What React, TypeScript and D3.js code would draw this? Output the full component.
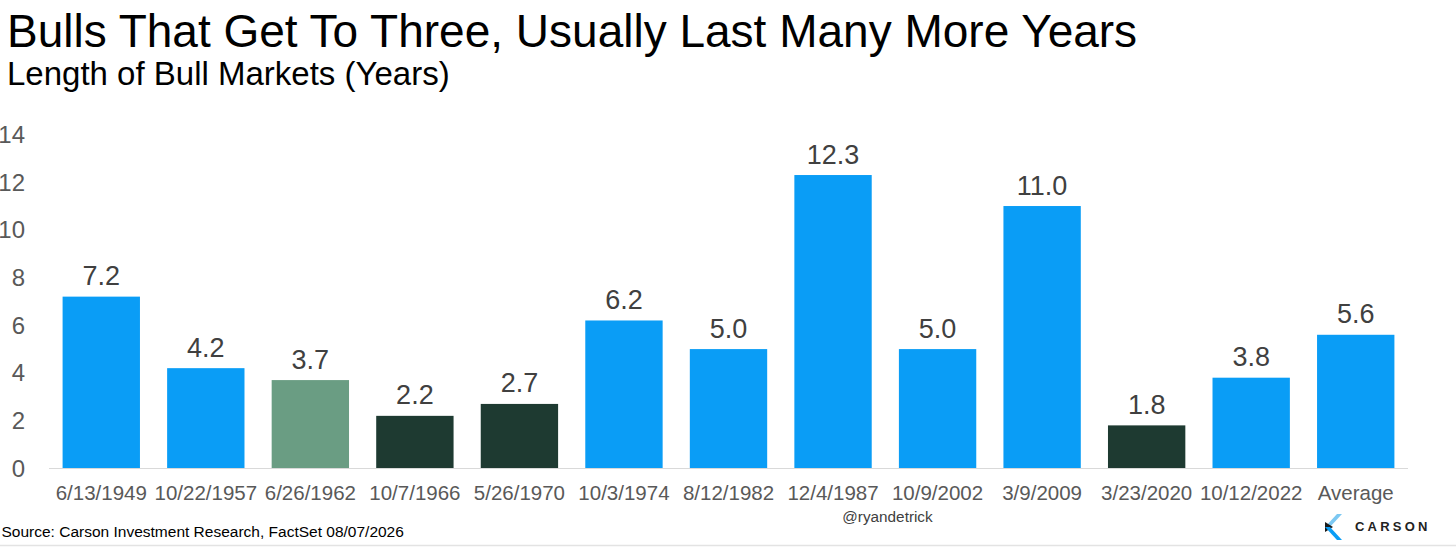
import React from "react";
import * as d3 from "d3";

const categories = ["6/13/1949", "10/22/1957", "6/26/1962", "10/7/1966", "5/26/1970", "10/3/1974", "8/12/1982", "12/4/1987", "10/9/2002", "3/9/2009", "3/23/2020", "10/12/2022", "Average"];
const values = [7.2, 4.2, 3.7, 2.2, 2.7, 6.2, 5.0, 12.3, 5.0, 11.0, 1.8, 3.8, 5.6];
const groups = ["blue", "blue", "green", "dark", "dark", "blue", "blue", "blue", "blue", "blue", "dark", "blue", "blue"];
const yTicks = [0, 2, 4, 6, 8, 10, 12, 14];

const colorMap: Record<string, string> = { blue: "#0A9DF6", green: "#6A9D83", dark: "#1E3A31" };

const W = 1456, H = 548;
const FONT = "'Liberation Sans', Arial, sans-serif";

export default function App() {
  const x = d3.scaleBand<string>().domain(categories).range([49, 1408]).paddingInner(0.26).paddingOuter(0.13);
  const y = d3.scaleLinear().domain([0, 14]).range([468.3, 134.5]);

  return (
    <svg width={W} height={H} style={{ position: "absolute", left: 0, top: 0, background: "#fff" }}>
      <rect x={0} y={0} width={W} height={H} fill="#fff" />
      <text x={7} y={47} fontFamily={FONT} fontSize={46} fill="#000">Bulls That Get To Three, Usually Last Many More Years</text>
      <text x={7} y={85} fontFamily={FONT} fontSize={33} fill="#000">Length of Bull Markets (Years)</text>

      {yTicks.map((t) => (
        <text key={t} x={25} y={y(t) + 8.5} textAnchor="end" fontFamily={FONT} fontSize={24} fill="#595959">{t}</text>
      ))}

      {categories.map((c, i) => (
        <g key={c}>
          <rect x={x(c)} y={y(values[i])} width={x.bandwidth()} height={y(0) - y(values[i])} fill={colorMap[groups[i]]} />
          <text x={(x(c) as number) + x.bandwidth() / 2} y={y(values[i]) - 11.5} textAnchor="middle" fontFamily={FONT} fontSize={27} fill="#404040">{values[i].toFixed(1)}</text>
          <text x={(x(c) as number) + x.bandwidth() / 2} y={500} textAnchor="middle" fontFamily={FONT} fontSize={20.5} fill="#595959">{c}</text>
        </g>
      ))}
      <line x1={49} x2={1408} y1={468.5} y2={468.5} stroke="#d9d9d9" strokeWidth={1} />

      <text x={887.5} y={522} textAnchor="middle" fontFamily={FONT} fontSize={15.3} fill="#404040">@ryandetrick</text>
      <text x={1.5} y={537} fontFamily={FONT} fontSize={15.5} fill="#000">Source: Carson Investment Research, FactSet 08/07/2026</text>

      <g>
        <polygon points="1337,514 1342,514 1330,527 1325,527" fill="#7cc8f2" />
        <polygon points="1325,522 1333,527 1325,532" fill="#1a1a1a" />
        <polygon points="1325,527 1330,527 1342,540 1337,540" fill="#0A9DF6" />
        <text x={1355} y={531} fontFamily={FONT} fontSize={13} fontWeight={700} letterSpacing={3.2} fill="#222">CARSON</text>
      </g>
      <line x1={0} x2={W} y1={545.5} y2={545.5} stroke="#e3e3e3" strokeWidth={1.5} />
    </svg>
  );
}
